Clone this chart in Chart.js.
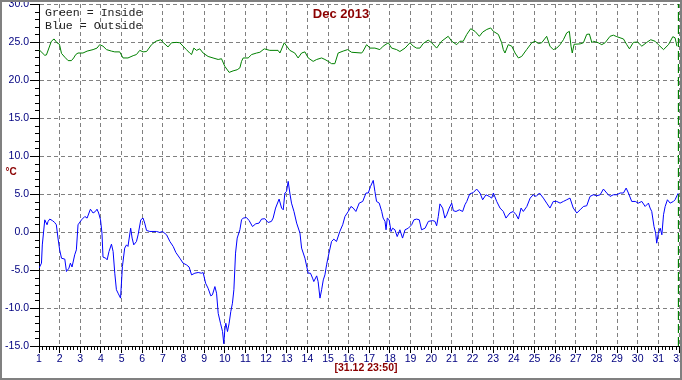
<!DOCTYPE html>
<html>
<head>
<meta charset="utf-8">
<title>Dec 2013</title>
<script src="https://cdn.jsdelivr.net/npm/chart.js@4.4.0/dist/chart.umd.min.js"></script>
<style>
  html, body { margin: 0; padding: 0; background: #fff; }
</style>
</head>
<body>
<canvas id="tempChart" width="682" height="380"></canvas>
<script>
// Inside (green) readings: day of month + temperature
const insideDays = [
  1.00, 1.28, 1.36, 1.60, 1.73, 1.87, 1.99, 2.09, 2.25, 2.41,
  2.57, 2.68, 2.78, 2.89, 3.13, 3.33, 3.62, 3.81, 3.94, 4.10,
  4.27, 4.51, 4.67, 4.91, 5.07, 5.31, 5.56, 5.72, 5.88, 6.04,
  6.21, 6.45, 6.66, 6.90, 7.01, 7.25, 7.42, 7.66, 7.82, 7.98,
  8.14, 8.30, 8.39, 8.50, 8.63, 8.79, 8.95, 9.19, 9.43, 9.68,
  9.84, 10.00, 10.21, 10.40, 10.60, 10.73, 10.81, 10.89, 11.13, 11.30,
  11.54, 11.70, 11.91, 12.18, 12.58, 12.67, 12.88, 13.15, 13.39, 13.55,
  13.72, 13.88, 14.04, 14.28, 14.45, 14.69, 14.85, 15.01, 15.17, 15.33,
  15.49, 15.73, 15.95, 16.14, 16.63, 16.70, 16.87, 17.03, 17.27, 17.51,
  17.67, 17.92, 18.08, 18.32, 18.48, 18.73, 18.97, 19.13, 19.29, 19.45,
  19.61, 19.85, 20.02, 20.26, 20.50, 20.82, 20.99, 21.23, 21.39, 21.55,
  21.72, 21.91, 22.12, 22.33, 22.49, 22.69, 22.88, 23.01, 23.25, 23.41,
  23.49, 23.57, 23.73, 23.90, 24.06, 24.22, 24.38, 24.62, 24.87, 25.03,
  25.19, 25.35, 25.59, 25.75, 25.91, 26.08, 26.24, 26.40, 26.56, 26.69,
  26.77, 26.83, 26.92, 27.21, 27.37, 27.53, 27.66, 27.78, 27.85, 28.09,
  28.26, 28.42, 28.66, 28.82, 28.99, 29.31, 29.47, 29.60, 29.79, 29.99,
  30.20, 30.44, 30.63, 30.84, 31.00, 31.25, 31.49, 31.70, 31.81, 31.90
];
const insideTemps = [
  24.0, 23.25, 23.3, 25.1, 25.4, 24.9, 24.7, 23.5, 23.0, 22.55,
  22.55, 22.9, 23.35, 23.55, 23.55, 23.8, 24.0, 24.2, 24.65, 24.45,
  24.0, 23.8, 23.7, 23.7, 22.9, 22.9, 23.2, 23.35, 23.9, 23.7,
  23.75, 24.65, 25.1, 25.3, 24.95, 24.35, 24.9, 24.95, 24.9, 24.45,
  24.0, 23.55, 23.35, 24.2, 23.9, 24.1, 23.55, 23.1, 22.9, 22.7,
  22.8, 21.8, 21.0, 21.2, 21.35, 21.6, 22.45, 22.9, 22.9, 23.35,
  23.55, 23.65, 24.1, 23.9, 23.9, 23.55, 24.9, 23.9, 23.55, 22.9,
  23.55, 23.7, 22.9, 22.45, 22.7, 22.9, 22.7, 22.45, 22.15, 22.15,
  23.55, 23.8, 24.0, 23.65, 23.55, 23.8, 24.65, 24.2, 24.2, 24.0,
  24.45, 24.9, 24.2, 24.0, 23.75, 24.2, 24.9, 24.45, 24.2, 24.2,
  24.8, 25.25, 24.9, 24.2, 25.1, 25.75, 25.1, 24.65, 25.1, 25.1,
  26.0, 26.75, 26.4, 25.75, 26.3, 26.65, 26.85, 26.4, 26.0, 24.9,
  24.0, 23.55, 24.65, 24.45, 23.55, 22.9, 23.1, 24.0, 24.9, 25.1,
  24.8, 24.9, 25.75, 24.45, 24.0, 24.2, 24.65, 25.3, 26.2, 26.4,
  24.45, 23.55, 24.7, 24.75, 24.9, 26.0, 26.05, 24.9, 25.1, 24.9,
  24.65, 24.9, 25.75, 25.9, 25.7, 25.4, 24.65, 24.1, 24.95, 25.0,
  24.45, 24.95, 25.3, 25.1, 24.65, 24.0, 24.65, 25.7, 25.55, 24.45
];

// Outside (blue) readings
const outsideDays = [
  1.00, 1.12, 1.16, 1.28, 1.39, 1.44, 1.52, 1.65, 1.76, 1.84,
  1.92, 2.00, 2.09, 2.25, 2.33, 2.45, 2.52, 2.60, 2.73, 2.81,
  2.89, 3.06, 3.22, 3.33, 3.49, 3.62, 3.73, 3.81, 3.89, 3.98,
  4.05, 4.10, 4.23, 4.30, 4.39, 4.51, 4.59, 4.67, 4.75, 4.83,
  4.95, 5.04, 5.15, 5.24, 5.31, 5.44, 5.51, 5.59, 5.72, 5.80,
  5.93, 6.04, 6.12, 6.21, 6.37, 6.69, 6.85, 6.98, 7.18, 7.34,
  7.50, 7.63, 7.82, 7.98, 8.14, 8.27, 8.39, 8.55, 8.71, 8.87,
  8.95, 9.07, 9.19, 9.32, 9.40, 9.52, 9.60, 9.68, 9.79, 9.89,
  9.95, 10.00, 10.05, 10.13, 10.21, 10.29, 10.37, 10.44, 10.52, 10.60,
  10.73, 10.81, 10.89, 11.05, 11.18, 11.34, 11.50, 11.66, 11.78, 11.94,
  12.10, 12.26, 12.34, 12.46, 12.63, 12.75, 12.83, 12.91, 12.99, 13.07,
  13.15, 13.23, 13.35, 13.48, 13.64, 13.72, 13.88, 14.04, 14.15, 14.25,
  14.31, 14.45, 14.52, 14.61, 14.69, 14.77, 14.85, 14.93, 15.01, 15.17,
  15.28, 15.41, 15.57, 15.71, 15.82, 15.98, 16.11, 16.22, 16.35, 16.51,
  16.68, 16.84, 16.95, 17.06, 17.19, 17.27, 17.35, 17.48, 17.60, 17.67,
  17.76, 17.81, 17.87, 17.96, 18.05, 18.13, 18.24, 18.35, 18.48, 18.61,
  18.73, 18.89, 19.05, 19.16, 19.29, 19.42, 19.53, 19.70, 19.86, 20.07,
  20.18, 20.26, 20.34, 20.42, 20.55, 20.66, 20.75, 20.87, 20.99, 21.07,
  21.20, 21.36, 21.52, 21.63, 21.72, 21.86, 22.04, 22.20, 22.36, 22.49,
  22.65, 22.81, 22.93, 23.01, 23.17, 23.33, 23.49, 23.62, 23.81, 23.97,
  24.11, 24.22, 24.35, 24.46, 24.63, 24.79, 24.94, 25.08, 25.24, 25.43,
  25.59, 25.75, 25.91, 26.08, 26.24, 26.40, 26.56, 26.72, 26.88, 27.05,
  27.21, 27.37, 27.53, 27.69, 27.85, 28.02, 28.18, 28.34, 28.50, 28.66,
  28.82, 28.99, 29.15, 29.31, 29.44, 29.55, 29.71, 29.88, 30.03, 30.20,
  30.36, 30.52, 30.60, 30.68, 30.79, 30.87, 30.92, 31.00, 31.09, 31.17,
  31.25, 31.33, 31.44, 31.57, 31.73, 31.81, 31.90, 31.96
];
const outsideTemps = [
  -4.76, -4.1, -1.7, 1.6, 0.95, 1.4, 1.7, 1.5, 1.25, 0.95,
  -0.8, -2.35, -3.45, -3.57, -5.2, -4.76, -4.1, -4.6, -3.0, -2.35,
  0.95, 1.6, 2.04, 1.83, 3.0, 2.5, 2.7, 3.0, 2.5, 1.6,
  -0.14, -3.3, -3.44, -3.66, -2.57, -1.6, -2.57, -5.42, -7.6, -8.05,
  -8.7, -4.54, -2.12, -1.69, -1.9, 0.5, -0.8, -1.69, -1.25, -0.37,
  1.6, 1.83, 1.17, 0.2, 0.07, 0.07, -0.06, 0.07, -0.37, -1.25,
  -1.9, -2.7, -3.44, -4.1, -4.32, -4.6, -5.64, -5.42, -5.33, -5.42,
  -5.33, -6.74, -7.4, -8.4, -8.27, -7.18, -8.05, -10.7, -12.0, -13.1,
  -14.7, -12.9, -12.0, -13.1, -12.0, -10.47, -9.37, -7.6, -2.78, -0.8,
  0.29, 1.6, 1.83, 1.9, 1.5, 0.72, 1.08, 1.17, 1.7, 1.75,
  1.25, 1.4, 1.83, 3.15, 4.33, 3.15, 2.92, 5.13, 5.34, 6.66,
  5.13, 3.8, 2.7, 1.17, -0.15, -2.12, -3.44, -5.42, -5.42, -6.07,
  -6.52, -5.77, -6.52, -8.7, -7.6, -6.3, -5.64, -4.32, -3.23, -1.25,
  -0.94, -1.25, 0.07, 0.95, 2.04, 2.7, 3.36, 3.15, 2.7, 3.8,
  4.02, 5.13, 5.13, 6.0, 6.79, 5.34, 4.02, 3.8, 2.7, 1.83,
  1.4, 0.29, 1.83, 1.6, 0.07, 0.5, 0.29, -0.6, 0.29, -0.8,
  0.29, 0.5, 0.95, 1.6, 1.7, 1.6, 0.29, 0.5, 1.4, 1.5,
  1.4, 0.82, 2.04, 3.7, 3.15, 1.83, 2.27, 3.15, 3.8, 2.8,
  2.7, 2.92, 2.7, 3.58, 4.02, 5.0, 5.2, 5.65, 5.13, 4.24,
  4.9, 4.68, 4.46, 5.13, 4.02, 3.15, 2.7, 1.83, 2.5, 2.7,
  2.27, 1.7, 3.15, 2.7, 3.36, 4.46, 4.9, 4.68, 5.13, 4.46,
  3.8, 3.15, 4.02, 4.02, 3.8, 4.02, 4.24, 4.46, 3.15, 2.5,
  2.92, 3.36, 3.45, 4.68, 4.9, 4.77, 4.9, 5.65, 5.13, 4.68,
  4.9, 4.9, 5.13, 5.13, 5.78, 5.13, 4.02, 4.02, 3.8, 4.02,
  3.36, 3.8, 3.15, 2.7, 0.72, -0.15, -1.47, -0.15, 0.5, -0.37,
  2.27, 3.36, 4.24, 3.8, 4.02, 4.24, 4.77, 5.1
];

// last reading 31.12 23:50, shown as a dashed marker
const lastReadingDay = 31 + 23 / 24 + 50 / 1440;
const markerRange = [-15, 30];

const navy = '#000080';
const maroon = '#8b0000';
const gridGrey = '#808080';
const tickFont = { family: '"Liberation Sans", Arial, sans-serif', size: 10.5 };

function toPoints(days, temps) {
  return days.map((d, i) => ({ x: d, y: temps[i] }));
}

const decorations = {
  id: 'decorations',
  afterDraw(chart) {
    const ctx = chart.ctx;
    const area = chart.chartArea;
    const x = chart.scales.x;
    const y = chart.scales.y;
    ctx.save();

    // minor ticks
    ctx.strokeStyle = '#000';
    ctx.lineWidth = 1;
    ctx.beginPath();
    for (let v = -15; v <= 30; v++) {
      if (v % 5 === 0) continue;
      const py = Math.round(y.getPixelForValue(v)) + 0.5;
      ctx.moveTo(area.left - 4, py);
      ctx.lineTo(area.left, py);
    }
    for (let d = 1; d < 32; d++) {
      for (let k = 1; k < 6; k++) {
        const px = Math.round(x.getPixelForValue(d + k / 6)) + 0.5;
        ctx.moveTo(px, area.bottom);
        ctx.lineTo(px, area.bottom + 4);
      }
    }
    ctx.stroke();

    // texts
    ctx.textBaseline = 'middle';
    ctx.fillStyle = maroon;
    ctx.textAlign = 'center';
    ctx.font = 'bold 13px "Liberation Sans", Arial, sans-serif';
    ctx.fillText('Dec 2013', 341, 14);
    ctx.font = 'bold 10.5px "Liberation Sans", Arial, sans-serif';
    ctx.fillText('[31.12 23:50]', 366, 368);
    ctx.font = 'bold 10px "Liberation Sans", Arial, sans-serif';
    ctx.fillText('°C', 11, 172);

    ctx.textAlign = 'left';
    ctx.fillStyle = '#202020';
    ctx.font = '11.6px "Liberation Mono", "DejaVu Sans Mono", monospace';
    ctx.fillText('Green = Inside', 45, 13);
    ctx.fillText('Blue = Outside', 45, 26);

    // window frame
    ctx.strokeStyle = gridGrey;
    ctx.lineWidth = 2;
    ctx.strokeRect(1, 1, chart.width - 2, chart.height - 2);
    ctx.restore();
  }
};

const tempChart = new Chart(document.getElementById('tempChart'), {
  type: 'line',
  data: {
    datasets: [
      {
        label: 'Inside',
        data: toPoints(insideDays, insideTemps),
        borderColor: '#008000',
        borderWidth: 1,
        pointRadius: 0,
        tension: 0
      },
      {
        label: 'Outside',
        data: toPoints(outsideDays, outsideTemps),
        borderColor: '#0000ff',
        borderWidth: 1,
        pointRadius: 0,
        tension: 0
      },
      {
        label: 'Last reading',
        data: markerRange.map(v => ({ x: lastReadingDay, y: v })),
        borderColor: '#008000',
        borderWidth: 2,
        borderDash: [9, 4],
        pointRadius: 0
      }
    ]
  },
  options: {
    responsive: false,
    animation: false,
    events: [],
    layout: { padding: { top: 4, right: 3, bottom: 0, left: 0 } },
    plugins: {
      legend: { display: false },
      tooltip: { enabled: false }
    },
    scales: {
      x: {
        type: 'linear',
        min: 1,
        max: 32,
        afterFit(scale) {
          scale.height = 34;
          scale.paddingLeft = 0;
          scale.paddingRight = 0;
        },
        ticks: {
          stepSize: 1,
          autoSkip: false,
          maxRotation: 0,
          padding: 0,
          color: navy,
          font: tickFont,
          callback: v => v
        },
        grid: {
          color: c => (c.tick && c.tick.value === 1) ? 'rgba(0,0,0,0)' : gridGrey,
          tickColor: '#000',
          tickLength: 7
        },
        border: { color: '#000', width: 1, dash: [4, 3] }
      },
      y: {
        min: -15,
        max: 30,
        afterFit(scale) {
          scale.width = 39;
          scale.paddingTop = 0;
          scale.paddingBottom = 0;
        },
        ticks: {
          stepSize: 5,
          padding: 1,
          color: navy,
          font: tickFont,
          callback: v => v.toFixed(1)
        },
        grid: {
          color: c => (c.tick && c.tick.value === -15) ? 'rgba(0,0,0,0)' : gridGrey,
          tickColor: '#000',
          tickLength: 9
        },
        border: { color: '#000', width: 1, dash: [4, 3] }
      }
    }
  },
  plugins: [decorations]
});
</script>
</body>
</html>
